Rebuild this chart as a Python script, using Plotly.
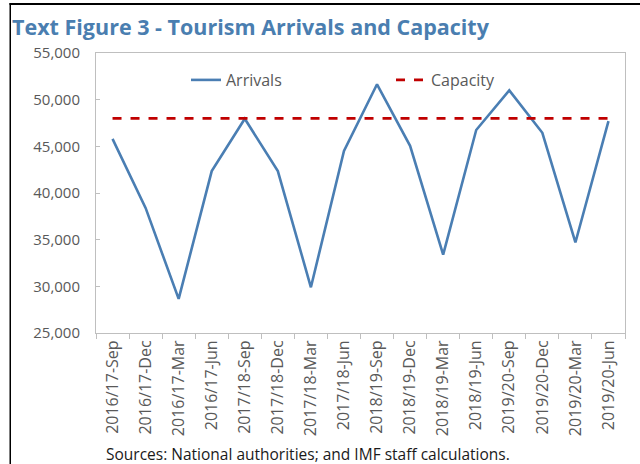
import plotly.graph_objects as go

categories = ["2016/17-Sep", "2016/17-Dec", "2016/17-Mar", "2016/17-Jun",
              "2017/18-Sep", "2017/18-Dec", "2017/18-Mar", "2017/18-Jun",
              "2018/19-Sep", "2018/19-Dec", "2018/19-Mar", "2018/19-Jun",
              "2019/20-Sep", "2019/20-Dec", "2019/20-Mar", "2019/20-Jun"]
arrivals = [45800, 38400, 28650, 42350, 47950, 42350, 29900, 44500,
            51650, 45050, 33400, 46750, 51000, 46450, 34700, 47700]
capacity = [48000] * len(categories)
y_ticks = [25000, 30000, 35000, 40000, 45000, 50000, 55000]
y_tick_labels = ["25,000", "30,000", "35,000", "40,000", "45,000", "50,000", "55,000"]

FONT = "Open Sans"
W, H = 640, 464
L, R, T, B = 96, 15, 53, 131
pw, ph = W - L - R, H - T - B

def px_x(x):
    return (x - L) / pw

def px_y(y):
    return (H - B - y) / ph

fig = go.Figure()
fig.add_trace(go.Scatter(x=categories, y=arrivals, mode="lines", name="Arrivals",
                         line=dict(color="#4A7EB3", width=2.6)))
fig.add_trace(go.Scatter(x=categories, y=capacity, mode="lines", name="Capacity",
                         line=dict(color="#C00000", width=2.6, dash="dash")))

fig.update_layout(
    width=W, height=H,
    margin=dict(l=L, r=R, t=T, b=B, autoexpand=False),
    paper_bgcolor="white", plot_bgcolor="white",
    font=dict(family=FONT, size=16, color="#595959"),
    title=dict(text="Text Figure 3 - Tourism Arrivals and Capacity",
               x=12 / W, xanchor="left", xref="container",
               y=1 - 27 / H, yanchor="middle", yref="container",
               font=dict(family=FONT, size=21.5, color="#4A7EB0", weight=700)),
    showlegend=True,
    legend=dict(orientation="h", x=px_x(186), xanchor="left", y=px_y(80), yanchor="middle",
                bgcolor="rgba(0,0,0,0)", entrywidth=160, entrywidthmode="pixels",
                font=dict(family=FONT, size=16, color="#595959"), itemwidth=30,
                tracegroupgap=0),
    xaxis=dict(type="category", range=[-0.5, len(categories) - 0.5], automargin=False,
               showgrid=False, showline=True, linecolor="#BFBFBF", linewidth=1,
               mirror=True, ticks="outside", tickson="boundaries", ticklen=5, tickcolor="#BFBFBF",
               tickangle=-90, tickfont=dict(family=FONT, size=16, color="#595959")),
    yaxis=dict(range=[25000, 55000], tickvals=y_ticks, ticktext=y_tick_labels, automargin=False,
               showgrid=False, showline=True, linecolor="#BFBFBF", linewidth=1, mirror=True,
               ticks="inside", ticklen=4, tickcolor="#BFBFBF", zeroline=False,
               tickfont=dict(family=FONT, size=15, color="#595959"), ticklabelstandoff=12),
)

# outer frame (top and left edges)
fig.add_shape(type="rect", xref="paper", yref="paper", layer="above",
              x0=px_x(9.5), x1=px_x(W), y0=px_y(3), y1=px_y(5),
              fillcolor="black", line=dict(width=0))
fig.add_shape(type="rect", xref="paper", yref="paper", layer="above",
              x0=px_x(9.5), x1=px_x(11), y0=px_y(3), y1=px_y(H),
              fillcolor="black", line=dict(width=0))

fig.add_annotation(text="Sources: National authorities; and IMF staff calculations.",
                   xref="paper", yref="paper", x=px_x(104), y=px_y(454),
                   xanchor="left", yanchor="middle", showarrow=False,
                   font=dict(family=FONT, size=15.5, color="#1A1A1A"))

fig.write_html("out.html", config={"displayModeBar": False},
               post_script="document.body.style.margin='0';document.body.style.overflow='hidden';")
